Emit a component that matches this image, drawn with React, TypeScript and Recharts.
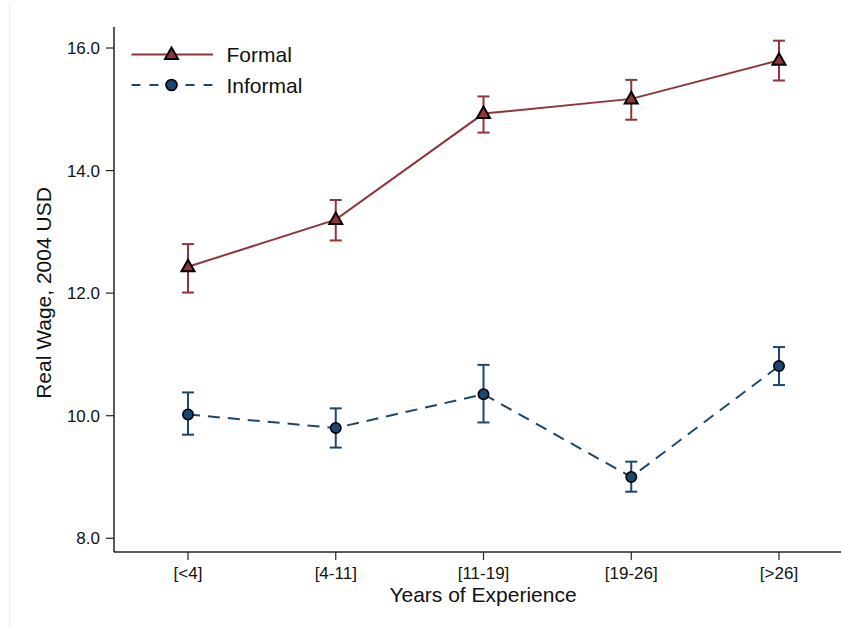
import React from 'react';
import { LineChart, Line, XAxis, YAxis, ErrorBar, Legend } from 'recharts';

const categories = ['[<4]', '[4-11]', '[11-19]', '[19-26]', '[>26]'];
const formal = [12.43, 13.2, 14.93, 15.17, 15.8];
const formalLow = [12.01, 12.86, 14.62, 14.83, 15.47];
const formalHigh = [12.8, 13.52, 15.21, 15.48, 16.12];
const informal = [10.02, 9.8, 10.35, 9.0, 10.81];
const informalLow = [9.69, 9.48, 9.89, 8.76, 10.5];
const informalHigh = [10.38, 10.12, 10.83, 9.25, 11.12];
const yTicks = [8, 10, 12, 14, 16];

const RED = '#90353B';
const BLUE = '#1A476F';
const FONT = '"Liberation Sans", Arial, Helvetica, sans-serif';

const data = categories.map((c, i) => ({
  cat: c,
  formal: formal[i],
  formalErr: [formal[i] - formalLow[i], formalHigh[i] - formal[i]],
  informal: informal[i],
  informalErr: [informal[i] - informalLow[i], informalHigh[i] - informal[i]],
}));

const Triangle = (props: any) => {
  const { cx, cy } = props;
  if (cx == null || cy == null) return <g key={props.key} />;
  const pts = `${cx},${cy - 7} ${cx - 6.5},${cy + 4.5} ${cx + 6.5},${cy + 4.5}`;
  return <polygon key={props.key} points={pts} fill={RED} stroke="#000" strokeWidth={2} strokeLinejoin="miter" />;
};

const Circle = (props: any) => {
  const { cx, cy } = props;
  if (cx == null || cy == null) return <g key={props.key} />;
  return <circle key={props.key} cx={cx} cy={cy} r={5.2} fill={BLUE} stroke="#000" strokeWidth={1.6} />;
};

const renderLegend = () => (
  <svg width={330} height={110} style={{ display: 'block' }}>
    <line x1={131.5} y1={54.5} x2={213} y2={54.5} stroke={RED} strokeWidth={2} />
    <polygon points="171.5,47.5 165,59 178,59" fill={RED} stroke="#000" strokeWidth={2} />
    <text x={226.5} y={62.3} fontSize={21} fontFamily={FONT} fill="#111">Formal</text>
    <line x1={131.5} y1={85} x2={213} y2={85} stroke={BLUE} strokeWidth={2} strokeDasharray="9 9" />
    <circle cx={171.5} cy={85} r={5.5} fill={BLUE} stroke="#000" strokeWidth={1.6} />
    <text x={226.5} y={92.8} fontSize={21} fontFamily={FONT} fill="#111">Informal</text>
  </svg>
);

export default function App() {
  return (
    <div style={{ position: 'absolute', left: 0, top: 0, width: 841, height: 627, background: '#fff', overflow: 'hidden' }}>
      <div style={{ position: 'absolute', left: 9, top: 5, width: 0, height: 622, borderLeft: '1px solid #e9edf0' }} />
      <LineChart
        width={841}
        height={627}
        data={data}
        margin={{ top: 27, right: 0, bottom: 45, left: 0 }}
        style={{ fontFamily: FONT }}
      >
        <XAxis
          dataKey="cat"
          padding={{ left: 74, right: 62 }}
          interval={0}
          height={30}
          tickSize={8}
          tickMargin={7}
          axisLine={{ stroke: '#222', strokeWidth: 1.5 }}
          tickLine={{ stroke: '#222', strokeWidth: 1.2 }}
          tick={{ fill: '#111', fontSize: 17, fontFamily: FONT }}
          label={{ value: 'Years of Experience', position: 'bottom', offset: 5, dx: 5.5, fontSize: 21, fill: '#111', fontFamily: FONT }}
        />
        <YAxis
          type="number"
          width={114}
          domain={[7.776, 16.343]}
          allowDataOverflow
          ticks={yTicks}
          tickFormatter={(v: number) => v.toFixed(1)}
          tickSize={8}
          tickMargin={6}
          axisLine={{ stroke: '#222', strokeWidth: 1.5 }}
          tickLine={{ stroke: '#222', strokeWidth: 1.2 }}
          tick={{ fill: '#111', fontSize: 17, fontFamily: FONT }}
          label={{ value: 'Real Wage, 2004 USD', angle: -90, position: 'center', dx: -13, dy: 3.5, fontSize: 21, fill: '#111', fontFamily: FONT }}
        />
        <Legend
          content={renderLegend}
          layout="vertical"
          align="center"
          verticalAlign="middle"
          wrapperStyle={{ position: 'absolute', left: 0, top: 0, width: 330, height: 110 }}
        />
        <Line
          dataKey="formal"
          name="Formal"
          stroke={RED}
          strokeWidth={2}
          dot={Triangle}
          activeDot={false}
          isAnimationActive={false}
        >
          <ErrorBar dataKey="formalErr" direction="y" width={6} stroke={RED} strokeWidth={2} />
        </Line>
        <Line
          dataKey="informal"
          name="Informal"
          stroke={BLUE}
          strokeWidth={2}
          strokeDasharray="12 8"
          dot={Circle}
          activeDot={false}
          isAnimationActive={false}
        >
          <ErrorBar dataKey="informalErr" direction="y" width={6} stroke={BLUE} strokeWidth={2} />
        </Line>
      </LineChart>
    </div>
  );
}
